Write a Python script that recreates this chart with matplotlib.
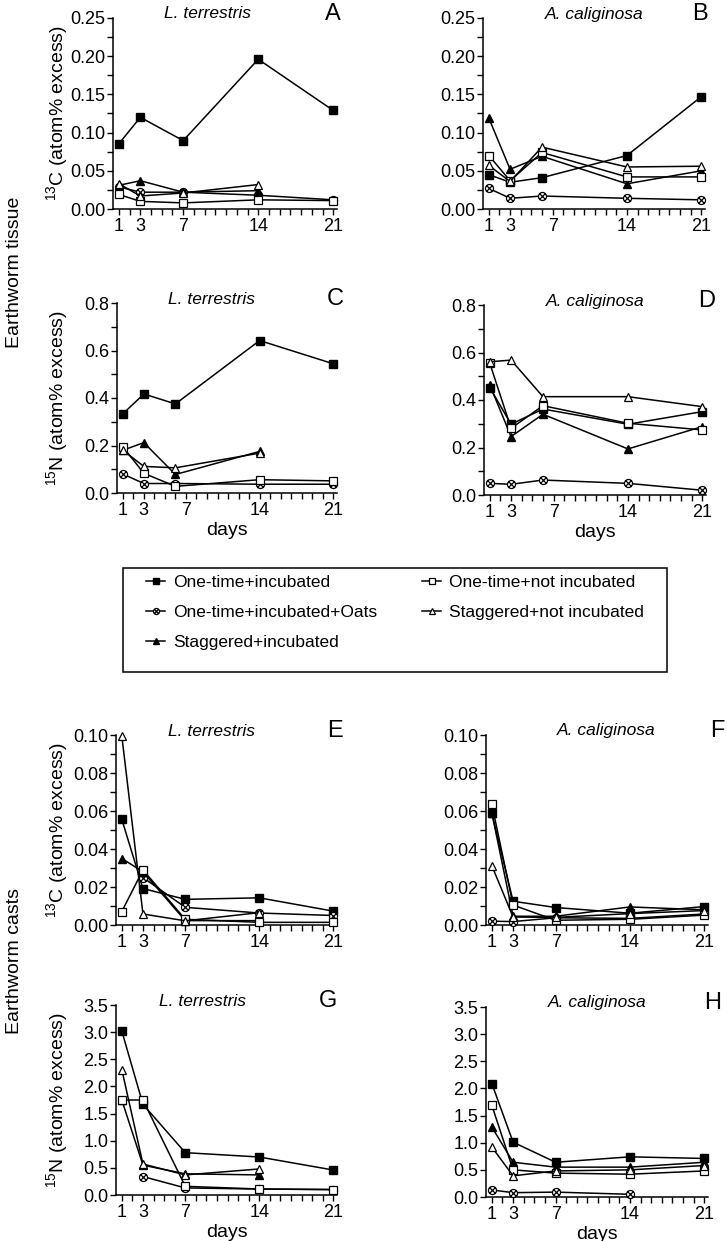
import numpy as np
import matplotlib
matplotlib.use("Agg")
import matplotlib.pyplot as plt
from matplotlib.path import Path
from matplotlib.lines import Line2D
from matplotlib.patches import Rectangle
from matplotlib.ticker import MultipleLocator, FormatStrFormatter, FixedLocator

plt.rcParams['font.family'] = ['Liberation Sans', 'DejaVu Sans']
plt.rcParams['mathtext.fontset'] = 'custom'
plt.rcParams['mathtext.rm'] = 'Liberation Sans'
plt.rcParams['mathtext.it'] = 'Liberation Sans:italic'

nan = np.nan

# ---------------- data ----------------
series_labels = ["One-time+incubated", "One-time+incubated+Oats", "Staggered+incubated",
                 "One-time+not incubated", "Staggered+not incubated"]
tick_days = [1, 3, 7, 14, 21]

days_A = [1, 3, 7, 14, 21]
days_B = [1, 3, 6, 14, 21]
days_C = [1, 3, 6, 14, 21]
days_D = [1, 3, 6, 14, 21]
days_E = [1, 3, 7, 14, 21]
days_F = [1, 3, 7, 14, 21]
days_G = [1, 3, 7, 14, 21]
days_H = [1, 3, 7, 14, 21]

# order: one-time+incubated, +oats, staggered+incubated, one-time+not inc, staggered+not inc
A_oti = [0.0855, 0.120, 0.0895, 0.196, 0.129]
A_oats = [0.029, 0.022, 0.022, 0.018, 0.012]
A_si = [0.031, 0.037, 0.022, 0.024, nan]
A_otni = [0.019, 0.010, 0.008, 0.012, 0.011]
A_sni = [0.033, 0.017, 0.021, 0.032, nan]

B_oti = [0.045, 0.035, 0.041, 0.070, 0.147]
B_oats = [0.027, 0.014, 0.017, 0.014, 0.012]
B_si = [0.119, 0.052, 0.069, 0.033, 0.050]
B_otni = [0.070, 0.037, 0.074, 0.042, 0.042]
B_sni = [0.057, 0.036, 0.081, 0.055, 0.056]

C_oti = [0.333, 0.417, 0.375, 0.642, 0.544]
C_oats = [0.080, 0.040, 0.040, 0.037, 0.037]
C_si = [0.180, 0.212, 0.078, 0.175, nan]
C_otni = [0.195, 0.083, 0.028, 0.056, 0.051]
C_sni = [0.180, 0.112, 0.106, 0.168, nan]

D_oti = [0.452, 0.298, 0.362, 0.298, 0.351]
D_oats = [0.049, 0.045, 0.063, 0.049, 0.020]
D_si = [0.463, 0.246, 0.340, 0.194, 0.288]
D_otni = [0.554, 0.281, 0.376, 0.302, 0.274]
D_sni = [0.561, 0.568, 0.414, 0.414, 0.372]

E_oti = [0.0556, 0.0192, 0.0135, 0.0143, 0.0073]
E_oats = [nan, 0.0250, 0.0093, 0.0063, 0.0050]
E_si = [0.0350, 0.0280, 0.0023, 0.0023, nan]
E_otni = [0.0071, 0.0290, 0.0030, 0.0014, 0.0014]
E_sni = [0.0995, 0.0058, 0.0022, 0.0065, nan]

F_oti = [0.0588, 0.0125, 0.0092, 0.0062, 0.0097]
F_oats = [0.0020, 0.0018, 0.0038, 0.0035, 0.0058]
F_si = [0.0590, 0.0046, 0.0046, 0.0095, 0.0080]
F_otni = [0.0635, 0.0105, 0.0025, 0.0030, 0.0052]
F_sni = [0.0312, 0.0042, 0.0040, 0.0060, 0.0076]

G_oti = [3.02, 1.67, 0.78, 0.70, 0.46]
G_oats = [nan, 0.34, 0.13, 0.11, 0.10]
G_si = [1.75, 0.55, 0.39, 0.37, nan]
G_otni = [1.75, 1.75, 0.16, 0.11, 0.10]
G_sni = [2.31, 0.57, 0.37, 0.48, nan]

H_oti = [2.09, 1.01, 0.64, 0.74, 0.71]
H_oats = [0.13, 0.08, 0.09, 0.05, nan]
H_si = [1.29, 0.64, 0.55, 0.55, 0.64]
H_otni = [1.69, 0.50, 0.44, 0.42, 0.48]
H_sni = [0.92, 0.39, 0.48, 0.50, 0.58]

species = ["L. terrestris", "A. caliginosa"]

# ---------------- styles ----------------
d = 0.7071
oats_marker = Path.make_compound_path(
    Path.unit_circle(),
    Path([[-d, -d], [d, d], [-d, d], [d, -d]],
         [Path.MOVETO, Path.LINETO, Path.MOVETO, Path.LINETO]))

styles = [
    dict(marker='s', mfc='black', mec='black', ms=5.8),
    dict(marker=oats_marker, mfc='white', mec='black', ms=5.8, mew=0.9),
    dict(marker='^', mfc='black', mec='black', ms=6),
    dict(marker='s', mfc='white', mec='black', ms=5.3, mew=0.9),
    dict(marker='^', mfc='white', mec='black', ms=6, mew=0.9),
]

W, H = 727, 1241
fig = plt.figure(figsize=(W / 100, H / 100), dpi=100)


def ax_at(x0, x1, ytop, ybot):
    return fig.add_axes([x0 / W, 1 - ybot / H, (x1 - x0) / W, (ybot - ytop) / H])


panels = [
    # letter, days, data, rect, ymax, major, minor, fmt, species idx, title x, letter x
    ("A", days_A, [A_oti, A_oats, A_si, A_otni, A_sni], (113, 337, 18, 209), 0.25, 0.05, 0.025, "%.2f", 0, 0.42, 333),
    ("B", days_B, [B_oti, B_oats, B_si, B_otni, B_sni], (483, 705, 18, 209), 0.25, 0.05, 0.025, "%.2f", 1, 0.50, 700),
    ("C", days_C, [C_oti, C_oats, C_si, C_otni, C_sni], (117, 337, 303, 493), 0.8, 0.2, 0.1, "%.1f", 0, 0.43, 335),
    ("D", days_D, [D_oti, D_oats, D_si, D_otni, D_sni], (484, 706, 305, 495), 0.8, 0.2, 0.1, "%.1f", 1, 0.50, 707),
    ("E", days_E, [E_oti, E_oats, E_si, E_otni, E_sni], (116, 337, 735, 925), 0.10, 0.02, 0.01, "%.2f", 0, 0.43, 335),
    ("F", days_F, [F_oti, F_oats, F_si, F_otni, F_sni], (486, 708, 735, 925), 0.10, 0.02, 0.01, "%.2f", 1, 0.54, 717),
    ("G", days_G, [G_oti, G_oats, G_si, G_otni, G_sni], (116, 337, 1005, 1195), 3.5, 0.5, None, "%.1f", 0, 0.39, 328),
    ("H", days_H, [H_oti, H_oats, H_si, H_otni, H_sni], (486, 708, 1007, 1197), 3.5, 0.5, None, "%.1f", 1, 0.50, 713),
]

plot_order = [3, 4, 1, 2, 0]

for letter, days, data, rect, ymax, major, minor, fmt, sp, tx, lx in panels:
    x0, x1, yt, yb = rect
    ax = ax_at(x0, x1, yt, yb)
    for i in plot_order:
        ax.plot(days, data[i], color='black', lw=1.1, zorder=3 + i * 0.1, clip_on=False, **styles[i])
    ax.set_xlim(0.45, 21.35)
    ax.set_ylim(0, ymax)
    for s in ['top', 'right']:
        ax.spines[s].set_visible(False)
    for s in ['left', 'bottom']:
        ax.spines[s].set_linewidth(1.1)
    ax.xaxis.set_major_locator(FixedLocator(tick_days))
    ax.xaxis.set_minor_locator(FixedLocator([k for k in range(1, 22) if k not in tick_days]))
    ax.yaxis.set_major_locator(MultipleLocator(major))
    if minor:
        ax.yaxis.set_minor_locator(MultipleLocator(minor))
    ax.yaxis.set_major_formatter(FormatStrFormatter(fmt))
    ax.tick_params(axis='both', which='both', direction='out', width=1.0, labelsize=13)
    ax.tick_params(axis='both', which='major', length=4.5)
    ax.tick_params(axis='both', which='minor', length=4)
    ax.tick_params(axis='x', pad=2)
    ax.tick_params(axis='y', pad=1)
    ax.text(tx, 1.0 + 4 / (yb - yt), species[sp], transform=ax.transAxes, ha='center', va='center',
            fontsize=12.5, style='italic')
    fig.text(lx / W, 1 - (yt - 4) / H, letter, ha='center', va='center', fontsize=17)
    if letter in ("C", "D", "G", "H"):
        ax.set_xlabel("days", fontsize=14, labelpad=2)
    ymid = 1 - (yt + yb) / 2 / H
    if letter in ("A", "E"):
        fig.text(57 / W, ymid, r"$^{13}$C (atom% excess)", rotation=90, ha='center', va='center', fontsize=14)
    if letter in ("C", "G"):
        fig.text(57 / W, ymid, r"$^{15}$N (atom% excess)", rotation=90, ha='center', va='center', fontsize=14)

fig.text(15 / W, 1 - 272 / H, "Earthworm tissue", rotation=90, ha='center', va='center', fontsize=14)
fig.text(15 / W, 1 - 961 / H, "Earthworm casts", rotation=90, ha='center', va='center', fontsize=14)

# legend box
fig.patches.append(Rectangle((123 / W, 1 - 672 / H), (667 - 123) / W, (672 - 568) / H,
                             transform=fig.transFigure, fill=False, edgecolor='black', lw=1.1))
handles = [Line2D([], [], color='black', lw=1.1, **styles[i]) for i in range(5)]
for h in handles:
    h.set_markersize(h.get_markersize() * 0.75)
leg = fig.legend(handles, series_labels, ncol=2, mode='expand', frameon=False,
                 loc='upper left', bbox_to_anchor=(146 / W, 1 - 575 / H, (644 - 146) / W, 0),
                 borderpad=0, borderaxespad=0, fontsize=12.5, handlelength=1.1,
                 handletextpad=0.45, labelspacing=0.85)

fig.savefig("out.png", dpi=100)
